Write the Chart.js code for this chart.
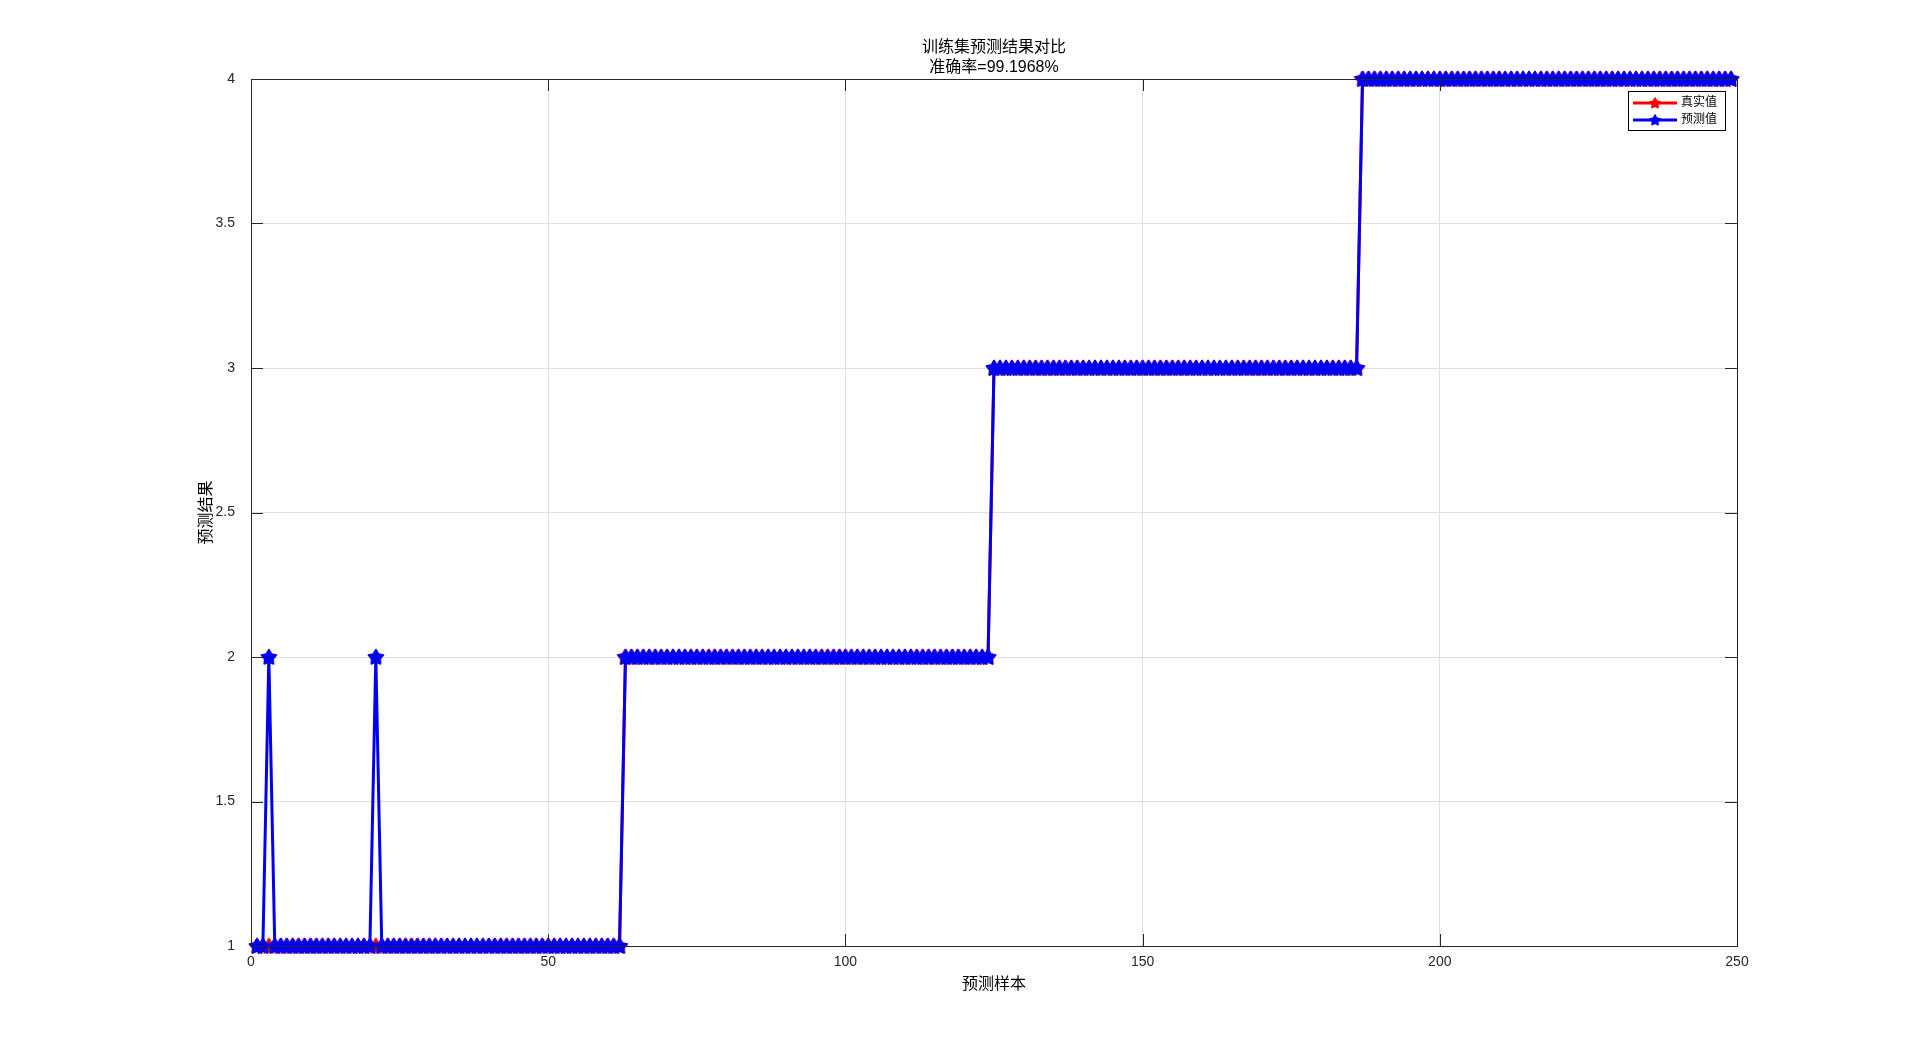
<!DOCTYPE html>
<html>
<head>
<meta charset="utf-8">
<script src="https://cdn.jsdelivr.net/npm/chart.js@4.4.1/dist/chart.umd.min.js"></script>
<style>
  html, body { margin: 0; padding: 0; background: #fff; }
  #wrap { width: 1920px; height: 1064px; }
</style>
</head>
<body>
<div id="wrap"><canvas id="chart" width="1920" height="1064"></canvas></div>
<script>
// 文本
const titleLines = ["训练集预测结果对比", "准确率=99.1968%"];
const xTitle = "预测样本";
const yTitle = "预测结果";
const seriesNames = ["真实值", "预测值"];

// 刻度
const xTicks = [0, 50, 100, 150, 200, 250];
const yTicks = [1, 1.5, 2, 2.5, 3, 3.5, 4];

// 真实值 (249 个样本)
const trueVals = [
  1,1,1,1,1,1,1,1,1,1,
  1,1,1,1,1,1,1,1,1,1,
  1,1,1,1,1,1,1,1,1,1,
  1,1,1,1,1,1,1,1,1,1,
  1,1,1,1,1,1,1,1,1,1,
  1,1,1,1,1,1,1,1,1,1,
  1,1,
  2,2,2,2,2,2,2,2,2,2,
  2,2,2,2,2,2,2,2,2,2,
  2,2,2,2,2,2,2,2,2,2,
  2,2,2,2,2,2,2,2,2,2,
  2,2,2,2,2,2,2,2,2,2,
  2,2,2,2,2,2,2,2,2,2,
  2,2,
  3,3,3,3,3,3,3,3,3,3,
  3,3,3,3,3,3,3,3,3,3,
  3,3,3,3,3,3,3,3,3,3,
  3,3,3,3,3,3,3,3,3,3,
  3,3,3,3,3,3,3,3,3,3,
  3,3,3,3,3,3,3,3,3,3,
  3,3,
  4,4,4,4,4,4,4,4,4,4,
  4,4,4,4,4,4,4,4,4,4,
  4,4,4,4,4,4,4,4,4,4,
  4,4,4,4,4,4,4,4,4,4,
  4,4,4,4,4,4,4,4,4,4,
  4,4,4,4,4,4,4,4,4,4,
  4,4,4
];

// 预测值 (第3、21个样本预测错误)
const predVals = [
  1,1,2,1,1,1,1,1,1,1,
  1,1,1,1,1,1,1,1,1,1,
  2,1,1,1,1,1,1,1,1,1,
  1,1,1,1,1,1,1,1,1,1,
  1,1,1,1,1,1,1,1,1,1,
  1,1,1,1,1,1,1,1,1,1,
  1,1,
  2,2,2,2,2,2,2,2,2,2,
  2,2,2,2,2,2,2,2,2,2,
  2,2,2,2,2,2,2,2,2,2,
  2,2,2,2,2,2,2,2,2,2,
  2,2,2,2,2,2,2,2,2,2,
  2,2,2,2,2,2,2,2,2,2,
  2,2,
  3,3,3,3,3,3,3,3,3,3,
  3,3,3,3,3,3,3,3,3,3,
  3,3,3,3,3,3,3,3,3,3,
  3,3,3,3,3,3,3,3,3,3,
  3,3,3,3,3,3,3,3,3,3,
  3,3,3,3,3,3,3,3,3,3,
  3,3,
  4,4,4,4,4,4,4,4,4,4,
  4,4,4,4,4,4,4,4,4,4,
  4,4,4,4,4,4,4,4,4,4,
  4,4,4,4,4,4,4,4,4,4,
  4,4,4,4,4,4,4,4,4,4,
  4,4,4,4,4,4,4,4,4,4,
  4,4,4
];

const FONT = "'Liberation Sans', Arial, 'Noto Sans CJK SC', sans-serif";
const AXIS_COLOR = "#262626";
const RED = "#ff0000";
const BLUE = "#0000f0";

// 星形标记
function starMarker(color) {
  const s = 20;
  const cv = document.createElement("canvas");
  cv.width = cv.height = s;
  const g = cv.getContext("2d");
  g.translate(s / 2, s / 2 + 0.5);
  g.beginPath();
  for (let i = 0; i < 10; i++) {
    const r = i % 2 ? 4.5 : 8;
    const a = -Math.PI / 2 + i * Math.PI / 5;
    g.lineTo(r * Math.cos(a), r * Math.sin(a));
  }
  g.closePath();
  g.fillStyle = color;
  g.fill();
  g.strokeStyle = color;
  g.lineWidth = 1.5;
  g.lineJoin = "round";
  g.stroke();
  return cv;
}
const redStar = starMarker(RED);
const blueStar = starMarker(BLUE);

const toPoints = arr => arr.map((v, i) => ({ x: i + 1, y: v }));

// 坐标框、内向刻度、标题、图例
const decor = {
  id: "decor",
  afterDraw(chart) {
    const { ctx, chartArea: a, scales } = chart;
    const tl = 12;
    ctx.save();
    ctx.strokeStyle = AXIS_COLOR;
    ctx.lineWidth = 1;
    ctx.beginPath();
    xTicks.forEach(t => {
      const x = Math.round(scales.x.getPixelForValue(t)) + 0.5;
      ctx.moveTo(x, a.bottom); ctx.lineTo(x, a.bottom - tl);
      ctx.moveTo(x, a.top); ctx.lineTo(x, a.top + tl);
    });
    yTicks.forEach(t => {
      const y = Math.round(scales.y.getPixelForValue(t)) + 0.5;
      ctx.moveTo(a.left, y); ctx.lineTo(a.left + tl, y);
      ctx.moveTo(a.right, y); ctx.lineTo(a.right - tl, y);
    });
    ctx.stroke();
    ctx.strokeRect(Math.round(a.left) + 0.5, Math.round(a.top) + 0.5,
                   Math.round(a.right - a.left), Math.round(a.bottom - a.top));

    // 标题
    ctx.fillStyle = "#000";
    ctx.font = "16px " + FONT;
    ctx.textAlign = "center";
    ctx.textBaseline = "middle";
    const cx = (a.left + a.right) / 2;
    ctx.fillText(titleLines[0], cx, 48);
    ctx.fillText(titleLines[1], cx, 68);

    // 图例
    const bx = a.right - 109, by = a.top + 12, bw = 97, bh = 39;
    ctx.fillStyle = "#fff";
    ctx.fillRect(bx, by, bw, bh);
    ctx.strokeStyle = "#000";
    ctx.strokeRect(bx + 0.5, by + 0.5, bw, bh);
    const rows = [[seriesNames[0], RED, redStar], [seriesNames[1], BLUE, blueStar]];
    rows.forEach((r, i) => {
      const y = by + 12 + i * 17;
      ctx.strokeStyle = r[1];
      ctx.lineWidth = 3;
      ctx.beginPath();
      ctx.moveTo(bx + 5, y); ctx.lineTo(bx + 49, y);
      ctx.stroke();
      ctx.drawImage(r[2], bx + 27 - 7, y - 7, 14, 14);
      ctx.fillStyle = "#000";
      ctx.font = "12px " + FONT;
      ctx.textAlign = "left";
      ctx.fillText(r[0], bx + 53, y);
    });
    ctx.restore();
  }
};

new Chart(document.getElementById("chart"), {
  type: "line",
  data: {
    datasets: [
      {
        label: seriesNames[0],
        data: toPoints(trueVals),
        borderColor: RED,
        backgroundColor: RED,
        borderWidth: 3,
        pointStyle: redStar,
        pointRadius: 8,
        tension: 0,
        clip: false,
        order: 2
      },
      {
        label: seriesNames[1],
        data: toPoints(predVals),
        borderColor: BLUE,
        backgroundColor: BLUE,
        borderWidth: 3,
        pointStyle: blueStar,
        pointRadius: 8,
        tension: 0,
        clip: false,
        order: 1
      }
    ]
  },
  options: {
    responsive: false,
    animation: false,
    events: [],
    layout: { padding: { left: 197, top: 79, right: 183, bottom: 70 } },
    plugins: {
      legend: { display: false },
      title: { display: false },
      tooltip: { enabled: false }
    },
    scales: {
      x: {
        type: "linear",
        min: 0,
        max: 250,
        afterFit: s => { s.height = 48; },
        afterBuildTicks: s => { s.ticks = xTicks.map(v => ({ value: v })); },
        grid: { color: "#dfdfdf", drawTicks: false },
        border: { display: false },
        ticks: { color: AXIS_COLOR, font: { family: FONT, size: 14 }, padding: 8, maxRotation: 0,
                 callback: v => String(v) },
        title: { display: true, text: xTitle, color: "#000", font: { family: FONT, size: 16 }, padding: 0 }
      },
      y: {
        type: "linear",
        min: 1,
        max: 4,
        afterFit: s => { s.width = 54; },
        afterBuildTicks: s => { s.ticks = yTicks.map(v => ({ value: v })); },
        grid: { color: "#dfdfdf", drawTicks: false },
        border: { display: false },
        ticks: { color: AXIS_COLOR, font: { family: FONT, size: 14 }, padding: 16,
                 callback: v => String(v) },
        title: { display: true, text: yTitle, color: "#000", font: { family: FONT, size: 16 }, padding: 0 }
      }
    }
  },
  plugins: [decor]
});
</script>
</body>
</html>
